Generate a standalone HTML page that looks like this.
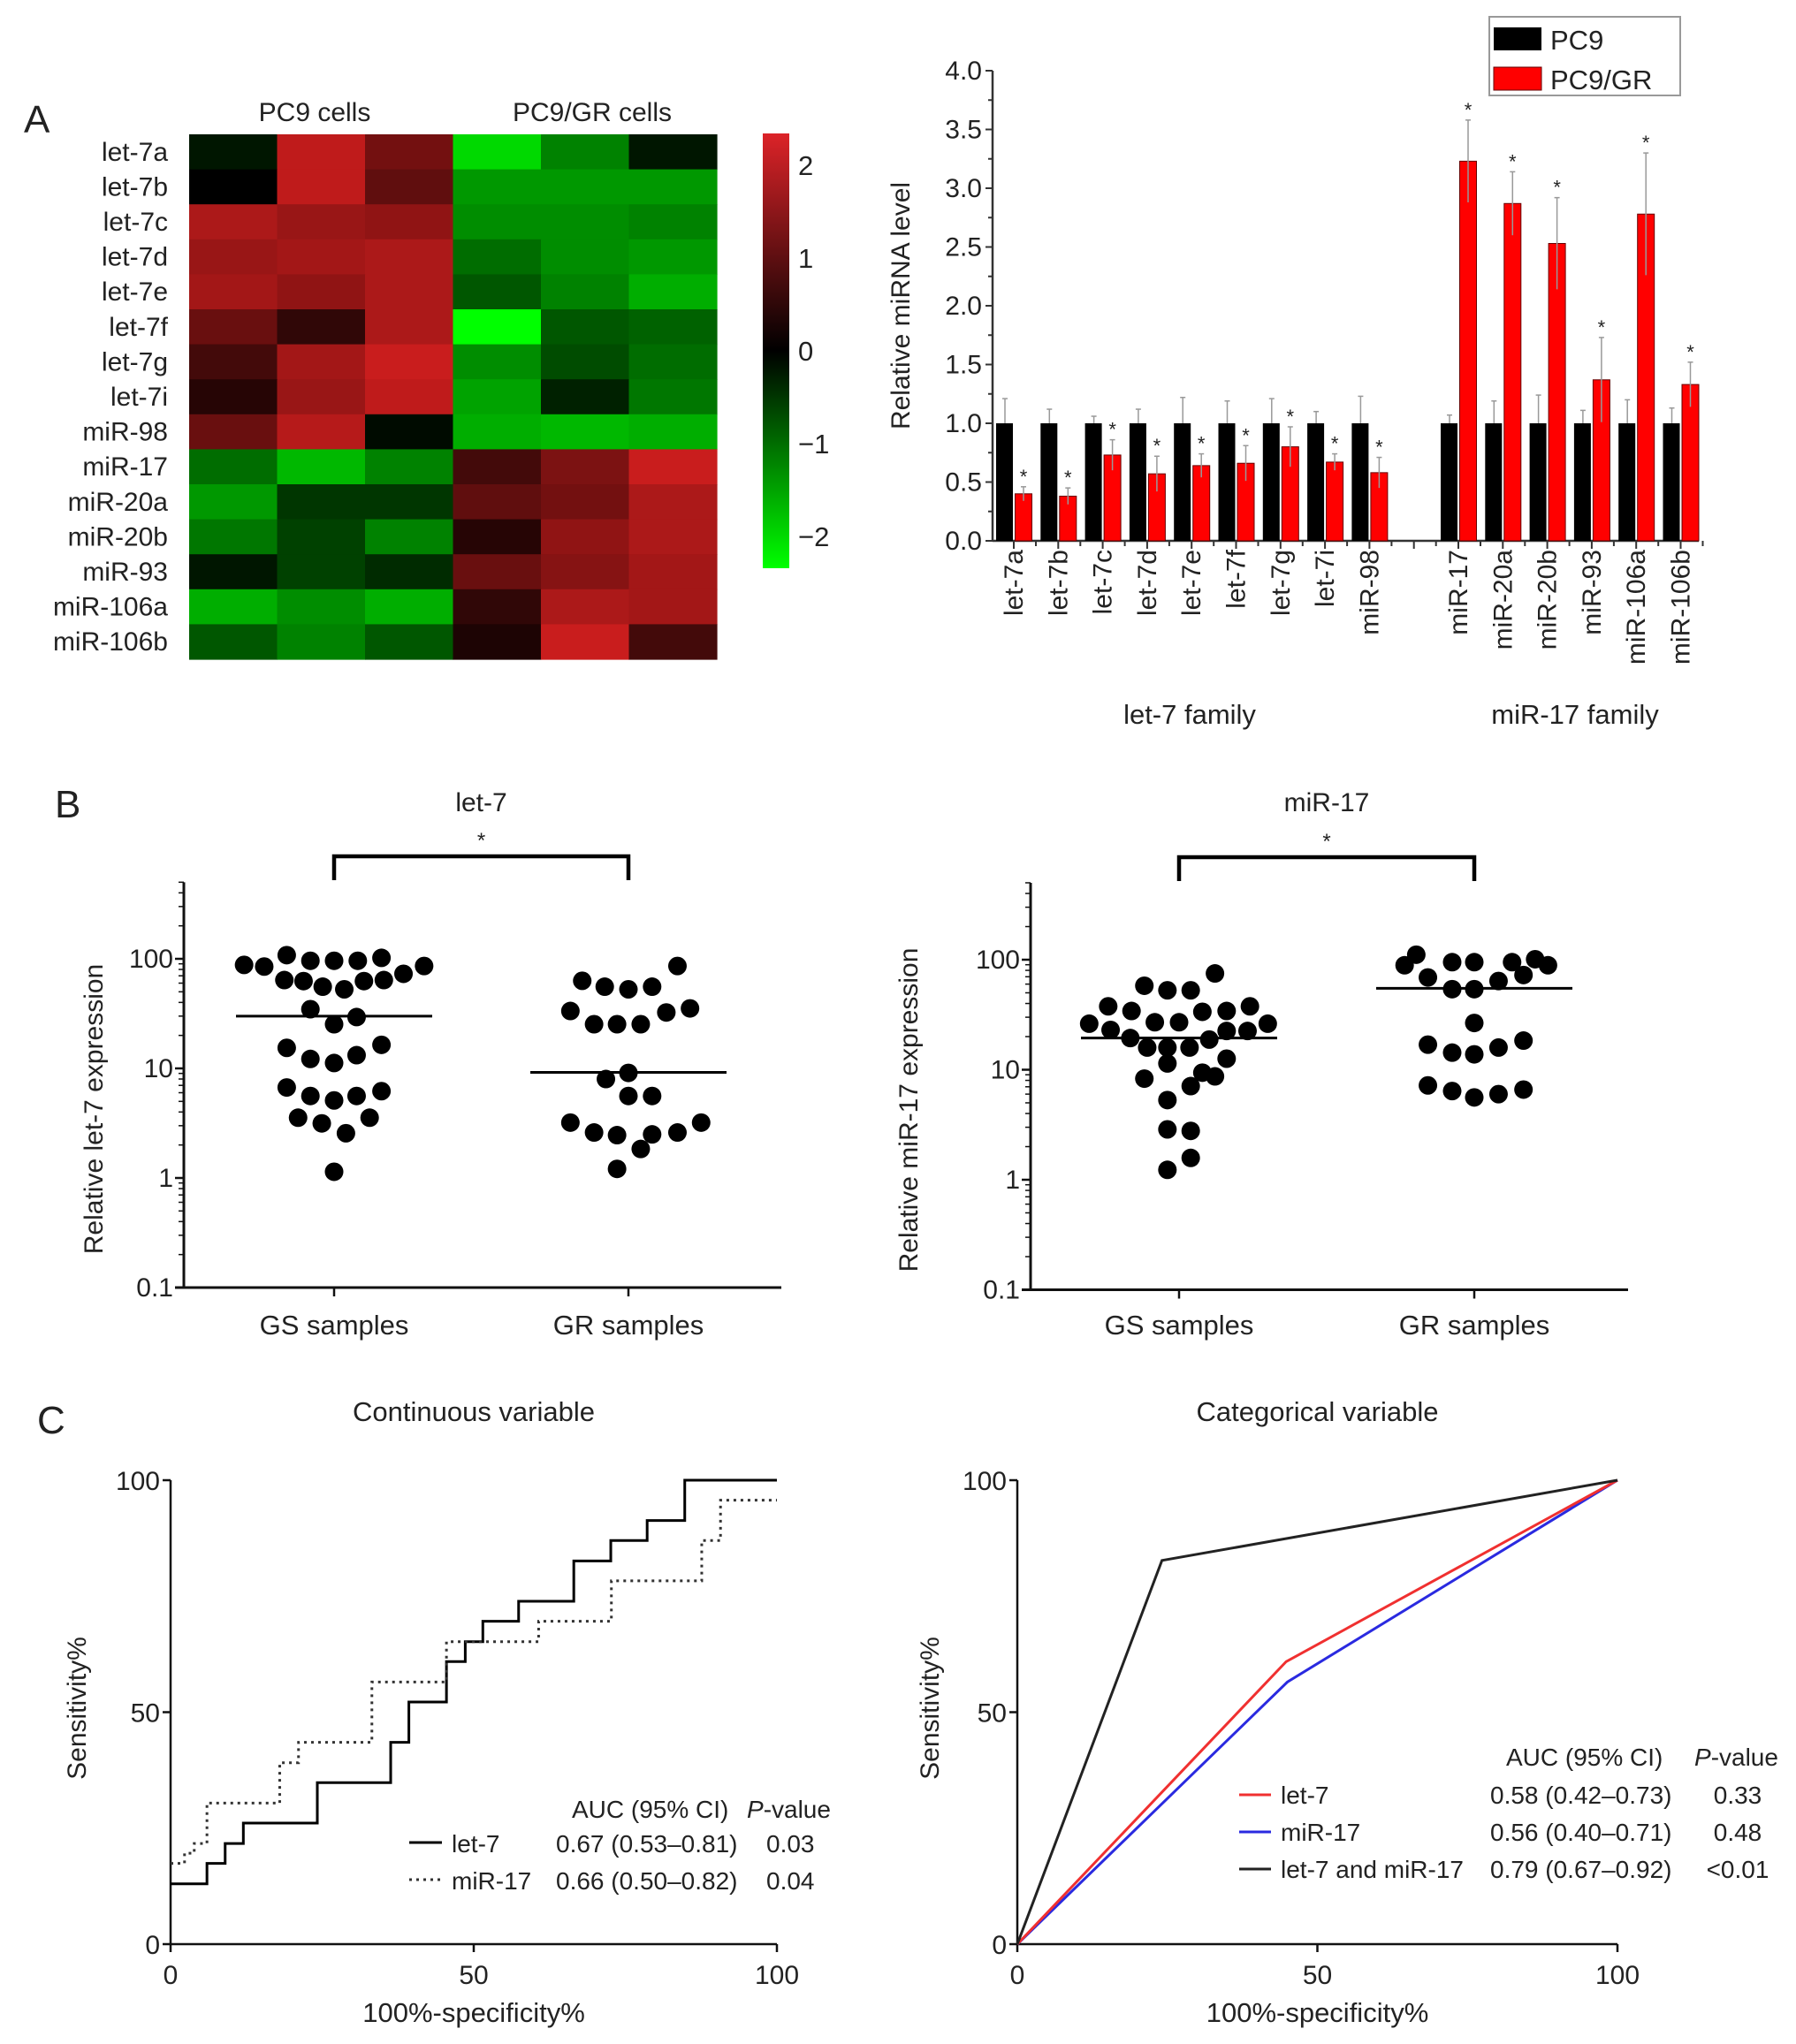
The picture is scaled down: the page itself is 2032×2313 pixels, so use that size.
<!DOCTYPE html>
<html><head><meta charset="utf-8"><style>
html,body{margin:0;padding:0;background:#fff}
svg{display:block;font-family:"Liberation Sans",Arial,sans-serif;fill:#222}
</style></head><body>
<svg id="fig" width="2032" height="2313" viewBox="0 0 2032 2313" xmlns="http://www.w3.org/2000/svg">
<g id="gA"></g>
<g id="gB"></g>
<g id="gC"></g>
</svg>
<script>
// ---------- Panel A heatmap data ----------
const hmRows = ["let-7a","let-7b","let-7c","let-7d","let-7e","let-7f","let-7g","let-7i","miR-98","miR-17","miR-20a","miR-20b","miR-93","miR-106a","miR-106b"];
const hmVals = [
 [-0.2,2.0,1.2,-2.0,-1.2,-0.2],
 [0.0,2.0,1.0,-1.4,-1.4,-1.4],
 [1.8,1.6,1.5,-1.3,-1.3,-1.2],
 [1.6,1.7,1.8,-1.0,-1.3,-1.4],
 [1.7,1.5,1.8,-0.8,-1.2,-1.6],
 [1.1,0.5,1.8,-2.4,-0.8,-0.9],
 [0.7,1.7,2.1,-1.3,-0.7,-1.0],
 [0.4,1.6,2.0,-1.5,-0.3,-1.1],
 [1.1,1.9,-0.1,-1.6,-1.7,-1.6],
 [-1.0,-1.7,-1.2,0.7,1.3,2.1],
 [-1.4,-0.5,-0.5,1.0,1.2,1.8],
 [-1.1,-0.6,-1.2,0.4,1.5,1.8],
 [-0.2,-0.6,-0.4,1.1,1.4,1.7],
 [-1.6,-1.3,-1.6,0.5,1.8,1.7],
 [-0.8,-1.2,-0.8,0.3,2.1,0.7]];
const cbTicks = [2,1,0,-1,-2];
// ---------- Panel A bar data ----------
const barCats = ["let-7a","let-7b","let-7c","let-7d","let-7e","let-7f","let-7g","let-7i","miR-98","miR-17","miR-20a","miR-20b","miR-93","miR-106a","miR-106b"];
const barSlots = [0,1,2,3,4,5,6,7,8,10,11,12,13,14,15];
const pc9Vals = [1,1,1,1,1,1,1,1,1,1,1,1,1,1,1];
const pc9ErrTop = [1.21,1.12,1.06,1.12,1.22,1.19,1.21,1.10,1.23,1.07,1.19,1.24,1.11,1.20,1.13];
const grVals = [0.40,0.38,0.73,0.57,0.64,0.66,0.80,0.67,0.58,3.23,2.87,2.53,1.37,2.78,1.33];
const grErrTop = [0.46,0.45,0.86,0.72,0.74,0.81,0.97,0.74,0.71,3.58,3.14,2.92,1.73,3.30,1.52];
const barYTicks = ["0.0","0.5","1.0","1.5","2.0","2.5","3.0","3.5","4.0"];
// ---------- Panel B data ----------
const gsLet7 = [88,85,108,96,96,96,102,86,64,62.6,55.7,52.7,62.6,64,73,34.7,29.4,25.3,15.4,12.2,11.2,13.2,16.4,6.7,5.6,5.1,5.6,6.2,3.55,3.15,2.56,3.55,1.14];
const gsLet7Off = [-3.8,-2.95,-2,-1,0,1,2,3.8,-2.1,-1.29,-0.48,0.43,1.26,2.1,2.93,-1,0.95,0,-2,-1,0,0.95,2,-2,-1,0,0.95,2,-1.52,-0.52,0.5,1.5,0];
const grLet7 = [63,55.7,52.7,55.7,86,33.4,32.4,35.3,25.3,25.3,25.3,8.0,9.1,5.6,5.6,3.2,2.6,2.46,1.84,2.5,2.6,3.2,1.21];
const grLet7Off = [-1.95,-1,0,1,2.07,-2.45,1.6,2.6,-1.45,-0.48,0.52,-0.95,0,0,1,-2.45,-1.45,-0.48,0.52,1,2.07,3.07,-0.48];
const let7Medians = [30,9.2];
const gsMir17 = [26.2,37.7,34.2,27,27,33.6,34.2,37.7,26.2,23,19.4,22.5,22.5,18.8,58,52.7,52.7,75,15.9,15.9,15.9,12.6,11.4,8.3,9.4,8.7,7.1,5.3,2.87,2.78,1.58,1.23];
const gsMir17Off = [-3.78,-2.98,-2,-1.02,0,0.98,2,2.98,3.73,-2.88,-2.05,2,2.88,1.27,-1.46,-0.49,0.49,1.51,-1.34,-0.49,0.44,2,-0.49,-1.46,0.98,1.51,0.49,-0.49,-0.49,0.49,0.49,-0.49];
const grMir17 = [89,111,69,95,95,64,95,72.6,101,89,54,54,26.6,16.9,14.3,13.8,15.9,18.4,7.2,6.4,5.6,6.0,6.6];
const grMir17Off = [-2.93,-2.44,-1.95,-0.93,0,1.02,1.59,2.07,2.56,3.1,-0.93,0,0,-1.95,-0.93,0,1.02,2.07,-1.95,-0.93,0,1.02,2.07];
const mir17Medians = [19.4,55];
const logTicks = ["0.1","1","10","100"];
const groupLabels = ["GS samples","GR samples"];
// ---------- Panel C data ----------
const rocLet7X = [0,6,9,12,24.2,36.3,39.3,45.5,48.6,51.5,57.4,66.5,72.6,78.6,84.8,100];
const rocLet7Y = [13,17.4,21.7,26.1,34.8,43.5,52.2,60.9,65.2,69.6,73.9,82.6,87,91.3,100,100];
const rocMir17X = [0,2.3,3.9,6,18,21.1,33.2,45.5,60.7,72.7,87.6,90.7,100];
const rocMir17Y = [17.4,19.6,21.7,30.4,39.1,43.5,56.5,65.2,69.6,78.3,87,95.7,95.7];
const catLet7X = [0,44.8,100], catLet7Y = [0,60.9,100];
const catMir17X = [0,45,100], catMir17Y = [0,56.5,100];
const catBothX = [0,24.1,100], catBothY = [0,82.7,100];
const rocTicks = [0,50,100];

const NS="http://www.w3.org/2000/svg";
function mk(parent,tag,attrs,text){const e=document.createElementNS(NS,tag);for(const k in attrs)e.setAttribute(k,attrs[k]);if(text!==undefined)e.textContent=text;parent.appendChild(e);return e;}
const gA=document.getElementById('gA'),gB=document.getElementById('gB'),gC=document.getElementById('gC');

// ===== Heatmap =====
const hmX0=214,hmY0=152,cw=99.5,rh=39.6;
function hmColor(v){if(v>=0){const t=Math.min(v/2.35,1);return `rgb(${Math.round(225*t)},${Math.round(32*t)},${Math.round(32*t)})`;}const t=Math.min(-v/2.35,1);return `rgb(0,${Math.round(255*t)},0)`;}
let t=mk(gA,'text',{x:27,y:150,'font-size':44});t.textContent='A';

t=mk(gA,'text',{x:356,y:137,'font-size':30,'text-anchor':'middle'},'PC9 cells');

t=mk(gA,'text',{x:670,y:137,'font-size':30,'text-anchor':'middle'},'PC9/GR cells');

hmRows.forEach((r,i)=>{
  const l=mk(gA,'text',{x:190,y:hmY0+rh*i+rh/2+10,'font-size':30,'text-anchor':'end'},r);
  
  hmVals[i].forEach((v,j)=>{
    const c=mk(gA,'rect',{x:hmX0+cw*j,y:hmY0+rh*i,width:cw+0.6,height:rh+0.6,fill:hmColor(v)});
    
  });
});
// colorbar
const cbTop=151,cbBot=643,cbV0=397,cbU=105;
const defs=mk(document.getElementById('fig'),'defs',{});
const lg=mk(defs,'linearGradient',{id:'cbg',x1:0,y1:0,x2:0,y2:1});
[[0,'rgb(220,35,40)'],[(cbV0-cbTop)/(cbBot-cbTop),'rgb(0,0,0)'],[1,'rgb(0,255,0)']].forEach(s=>mk(lg,'stop',{offset:s[0],'stop-color':s[1]}));
t=mk(gA,'rect',{x:863,y:cbTop,width:30,height:cbBot-cbTop,fill:'url(#cbg)'});

cbTicks.forEach(v=>{const l=mk(gA,'text',{x:903,y:cbV0-v*cbU+11,'font-size':31},v<0?'\u2212'+(-v):String(v));
 });

// ===== Bar chart =====
const bx0=1123,bx1=1922,by0=612,bu=133;
const gx=s=>1147+50.3*s, yB=v=>by0-v*bu;
t=mk(gA,'line',{x1:bx0,y1:yB(4),x2:bx0,y2:by0,stroke:'#333','stroke-width':2.5});

t=mk(gA,'line',{x1:bx0,y1:by0,x2:bx1,y2:by0,stroke:'#333','stroke-width':2.5});

barYTicks.forEach((lab,i)=>{const y=yB(parseFloat(lab));
 mk(gA,'line',{x1:bx0-8,y1:y,x2:bx0,y2:y,stroke:'#333','stroke-width':2});
 if(i<8)mk(gA,'line',{x1:bx0-5,y1:yB(parseFloat(lab)+0.25),x2:bx0,y2:yB(parseFloat(lab)+0.25),stroke:'#333','stroke-width':2});
 const l=mk(gA,'text',{x:bx0-12,y:y+10,'font-size':30,'text-anchor':'end'},lab);
 });
for(let s=0;s<=15;s++){mk(gA,'line',{x1:gx(s),y1:by0,x2:gx(s),y2:by0+9,stroke:'#333','stroke-width':2});mk(gA,'line',{x1:gx(s)+25,y1:by0,x2:gx(s)+25,y2:by0+6,stroke:'#333','stroke-width':2});}
t=mk(gA,'text',{x:0,y:0,'font-size':30,'text-anchor':'middle',transform:`translate(1029,346) rotate(-90)`},'Relative miRNA level');

barCats.forEach((c,i)=>{const cx=gx(barSlots[i]);
 let e=mk(gA,'line',{x1:cx-10,y1:yB(pc9ErrTop[i]),x2:cx-10,y2:yB(pc9Vals[i]),stroke:'#999','stroke-width':1.5});
 mk(gA,'line',{x1:cx-13,y1:yB(pc9ErrTop[i]),x2:cx-7,y2:yB(pc9ErrTop[i]),stroke:'#999','stroke-width':1.5});
 e=mk(gA,'rect',{x:cx-20,y:yB(pc9Vals[i]),width:19,height:yB(0)-yB(pc9Vals[i]),fill:'#000'});
 
 e=mk(gA,'rect',{x:cx+1.5,y:yB(grVals[i]),width:19,height:yB(0)-yB(grVals[i]),fill:'#f00',stroke:'#600','stroke-width':1});
 
 mk(gA,'line',{x1:cx+11,y1:yB(grErrTop[i]),x2:cx+11,y2:yB(grVals[i]-(grErrTop[i]-grVals[i])),stroke:'#999','stroke-width':1.5});
 mk(gA,'line',{x1:cx+8,y1:yB(grErrTop[i]),x2:cx+14,y2:yB(grErrTop[i]),stroke:'#999','stroke-width':1.5});
 e=mk(gA,'text',{x:cx+11,y:yB(grErrTop[i])-4,'font-size':22,'text-anchor':'middle'},'*');
 
 e=mk(gA,'text',{x:0,y:0,'font-size':30,'text-anchor':'end',transform:`translate(${cx+10},622) rotate(-90)`},c);
 
});
t=mk(gA,'text',{x:1346,y:819,'font-size':31,'text-anchor':'middle'},'let-7 family');

t=mk(gA,'text',{x:1782,y:819,'font-size':31,'text-anchor':'middle'},'miR-17 family');

t=mk(gA,'rect',{x:1685,y:19,width:216,height:89,fill:'#fff',stroke:'#999','stroke-width':2});

mk(gA,'rect',{x:1690,y:31,width:54,height:26,fill:'#000'});
mk(gA,'rect',{x:1690,y:76,width:54,height:26,fill:'#f00',stroke:'#600','stroke-width':1});
t=mk(gA,'text',{x:1754,y:56,'font-size':31},'PC9');
t=mk(gA,'text',{x:1754,y:101,'font-size':31},'PC9/GR');

// ===== Panel B =====
t=mk(gB,'text',{x:62,y:925,'font-size':44},'B');
function dotPlot(o){
 const g=mk(gB,'g',{});
 const y=v=>o.y100-(Math.log10(v)-2)*o.dec;
 const top=y(500), bot=y(0.1);
 mk(g,'line',{x1:o.ax,y1:top,x2:o.ax,y2:bot,stroke:'#111','stroke-width':3});
 mk(g,'line',{x1:o.ax-10,y1:bot,x2:o.xr,y2:bot,stroke:'#111','stroke-width':3});
 logTicks.forEach(l=>{const v=parseFloat(l);mk(g,'line',{x1:o.ax-10,y1:y(v),x2:o.ax,y2:y(v),stroke:'#111','stroke-width':2.5});
  const e=mk(g,'text',{x:o.ax-12,y:y(v)+10,'font-size':30,'text-anchor':'end'},l);
  for(let k=2;k<=9;k++){const vv=v*k;if(vv<=500)mk(g,'line',{x1:o.ax-6,y1:y(vv),x2:o.ax,y2:y(vv),stroke:'#111','stroke-width':1.5});}});
 o.centers.forEach((c,i)=>{mk(g,'line',{x1:c,y1:bot,x2:c,y2:bot+10,stroke:'#111','stroke-width':2.5});
  const e=mk(g,'text',{x:c,y:1510,'font-size':31,'text-anchor':'middle'},groupLabels[i]);
  o.vals[i].forEach((v,j)=>{const d=mk(g,'circle',{cx:c+o.offs[i][j]*o.sp,cy:y(v),r:10.5,fill:'#000'});});
  const m=mk(g,'line',{x1:c-111,y1:y(o.med[i]),x2:c+111,y2:y(o.med[i]),stroke:'#000','stroke-width':3});
 });
 const b=mk(g,'path',{d:`M${o.centers[0]},${o.by+27}V${o.by}H${o.centers[1]}V${o.by+27}`,fill:'none',stroke:'#000','stroke-width':4.5});
 
 let e=mk(g,'text',{x:(o.centers[0]+o.centers[1])/2,y:o.by-10,'font-size':24,'text-anchor':'middle'},'*');
 e=mk(g,'text',{x:(o.centers[0]+o.centers[1])/2,y:918,'font-size':30,'text-anchor':'middle'},o.title);
 e=mk(g,'text',{x:0,y:0,'font-size':30,'text-anchor':'middle',transform:`translate(${o.yt},${o.y100+170}) rotate(-90)`},o.ytitle);
}
dotPlot({name:'let7-dot-plot',ax:208,xr:884,y100:1085,dec:124,centers:[378,711],sp:26.8,vals:[gsLet7,grLet7],offs:[gsLet7Off,grLet7Off],med:let7Medians,by:969,title:'let-7',ytitle:'Relative let-7 expression',yt:116});
dotPlot({name:'mir17-dot-plot',ax:1166,xr:1842,y100:1086,dec:124.5,centers:[1334,1668],sp:26.9,vals:[gsMir17,grMir17],offs:[gsMir17Off,grMir17Off],med:mir17Medians,by:970,title:'miR-17',ytitle:'Relative miR-17 expression',yt:1038});

// ===== Panel C =====
t=mk(gC,'text',{x:42,y:1622,'font-size':44},'C');
function rocAxes(o){
 const g=mk(gC,'g',{});
 const X=v=>o.x0+(o.x1-o.x0)*v/100, Y=v=>o.y0-(o.y0-o.y1)*v/100;
 mk(g,'line',{x1:X(0),y1:Y(100),x2:X(0),y2:Y(0),stroke:'#111','stroke-width':2.5});
 mk(g,'line',{x1:X(0),y1:Y(0),x2:X(100),y2:Y(0),stroke:'#111','stroke-width':2.5});
 rocTicks.forEach(v=>{mk(g,'line',{x1:X(0)-9,y1:Y(v),x2:X(0),y2:Y(v),stroke:'#111','stroke-width':2.5});
  mk(g,'line',{x1:X(v),y1:Y(0),x2:X(v),y2:Y(0)+9,stroke:'#111','stroke-width':2.5});
  let e=mk(g,'text',{x:X(0)-12,y:Y(v)+11,'font-size':30,'text-anchor':'end'},String(v));
  e=mk(g,'text',{x:X(v),y:2245,'font-size':30,'text-anchor':'middle'},String(v));});
 let e=mk(g,'text',{x:(o.x0+o.x1)/2,y:2288,'font-size':31,'text-anchor':'middle'},'100%-specificity%');
 e=mk(g,'text',{x:0,y:0,'font-size':30,'text-anchor':'middle',transform:`translate(${o.yt},1933) rotate(-90)`},'Sensitivity%');
 e=mk(g,'text',{x:(o.x0+o.x1)/2,y:1608,'font-size':31,'text-anchor':'middle'},o.title);
 return {g,X,Y};
}
let A=rocAxes({name:'roc-continuous',x0:193,x1:879,y0:2200,y1:1675,yt:97,title:'Continuous variable'});
function stepPath(xs,ys,X,Y){let d=`M${X(xs[0])},${Y(ys[0])}`;for(let i=1;i<xs.length;i++){d+=`H${X(xs[i])}V${Y(ys[i])}`;}return d;}
t=mk(A.g,'path',{d:stepPath(rocLet7X,rocLet7Y,A.X,A.Y),fill:'none',stroke:'#000','stroke-width':3});

t=mk(A.g,'path',{d:stepPath(rocMir17X,rocMir17Y,A.X,A.Y),fill:'none',stroke:'#333','stroke-width':3,'stroke-dasharray':'3 5'});

mk(A.g,'text',{x:647,y:2057,'font-size':28},'AUC (95% CI)');
t=mk(A.g,'text',{x:845,y:2057,'font-size':28});t.innerHTML='<tspan font-style="italic">P</tspan>-value';
mk(A.g,'line',{x1:463,y1:2085,x2:500,y2:2085,stroke:'#000','stroke-width':3});
mk(A.g,'line',{x1:463,y1:2127,x2:500,y2:2127,stroke:'#333','stroke-width':3,'stroke-dasharray':'3 5'});
[['let-7','0.67 (0.53\u20130.81)','0.03',2096],['miR-17','0.66 (0.50\u20130.82)','0.04',2138]].forEach(r=>{
 let e=mk(A.g,'text',{x:511,y:r[3],'font-size':28},r[0]);
 mk(A.g,'text',{x:629,y:r[3],'font-size':28},r[1]);mk(A.g,'text',{x:867,y:r[3],'font-size':28},r[2]);});

let B=rocAxes({name:'roc-categorical',x0:1151,x1:1830,y0:2200,y1:1675,yt:1062,title:'Categorical variable'});
function poly(xs,ys,X,Y){return xs.map((x,i)=>`${X(x)},${Y(ys[i])}`).join(' ');}
t=mk(B.g,'polyline',{points:poly(catMir17X,catMir17Y,B.X,B.Y),fill:'none',stroke:'#2a2ae0','stroke-width':3});

t=mk(B.g,'polyline',{points:poly(catLet7X,catLet7Y,B.X,B.Y),fill:'none',stroke:'#f03030','stroke-width':3});

t=mk(B.g,'polyline',{points:poly(catBothX,catBothY,B.X,B.Y),fill:'none',stroke:'#222','stroke-width':3});

mk(B.g,'text',{x:1704,y:1998,'font-size':28},'AUC (95% CI)');
t=mk(B.g,'text',{x:1917,y:1998,'font-size':28});t.innerHTML='<tspan font-style="italic">P</tspan>-value';
[['let-7','0.58 (0.42\u20130.73)','0.33',2041,'#f03030'],['miR-17','0.56 (0.40\u20130.71)','0.48',2083,'#2a2ae0'],['let-7 and miR-17','0.79 (0.67\u20130.92)','<0.01',2125,'#222']].forEach(r=>{
 mk(B.g,'line',{x1:1402,y1:r[3]-10,x2:1438,y2:r[3]-10,stroke:r[4],'stroke-width':3});
 let e=mk(B.g,'text',{x:1449,y:r[3],'font-size':28},r[0]);
 mk(B.g,'text',{x:1686,y:r[3],'font-size':28},r[1]);mk(B.g,'text',{x:1966,y:r[3],'font-size':28,'text-anchor':'middle'},r[2]);});
</script>
</body></html>
